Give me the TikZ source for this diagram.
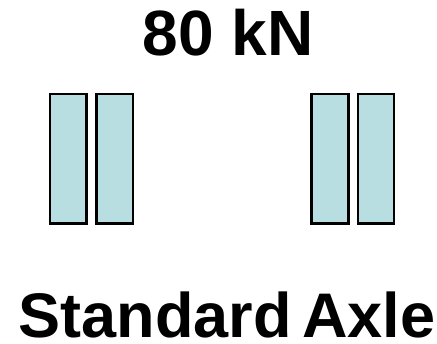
\documentclass[tikz,border=0pt]{standalone}
\usepackage{fontspec}
\setmainfont{Liberation Sans}
\definecolor{tyre}{RGB}{184,222,225}
\begin{document}
\begin{tikzpicture}[x=1pt,y=-1pt,
  tyrebox/.style={draw=black,fill=tyre,line width=2.5pt},
  bigtext/.style={font=\bfseries\fontsize{64}{64}\selectfont,inner sep=0pt,anchor=base}]
\useasboundingbox (0,0) rectangle (437,344);
\fill[white] (0,0) rectangle (437,344);
\node[bigtext] (load) at (228,56) {80 kN};
\draw[tyrebox] (50,94) rectangle (86.5,223.5) coordinate (t1);
\draw[tyrebox] (96.5,94) rectangle (133,223.5) coordinate (t2);
\draw[tyrebox] (311.5,94) rectangle (348.5,223.5) coordinate (t3);
\draw[tyrebox] (358,94) rectangle (394,223.5) coordinate (t4);
\node[bigtext,font=\bfseries\fontsize{63}{63}\selectfont] (title) at (227,338) {Standard\hspace{0.16em}Axle};
\end{tikzpicture}
\end{document}
